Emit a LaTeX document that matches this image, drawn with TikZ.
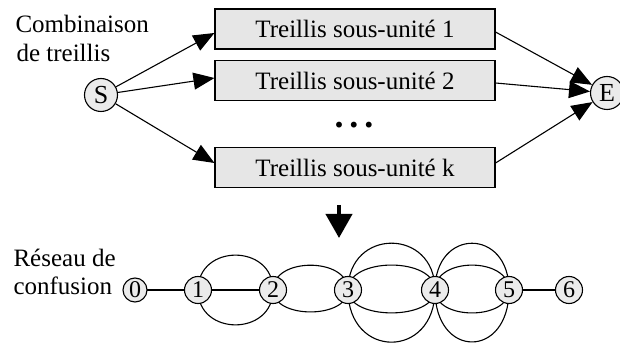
\documentclass[tikz,border=0pt]{standalone}
\usepackage{fontspec}
\setmainfont{Liberation Serif}
\usetikzlibrary{arrows.meta,backgrounds}
\definecolor{boxgray}{HTML}{E6E6E6}
\definecolor{nodegray}{HTML}{EBEBEB}
\begin{document}
\begin{tikzpicture}[x=1pt,y=1pt,line width=1.1pt,
  box/.style={draw, fill=boxgray, minimum width=280pt, minimum height=40pt, inner sep=0pt, font=\fontsize{25}{29}\selectfont},
  endpt/.style={draw, circle, fill=nodegray, inner sep=0pt, minimum size=33pt, font=\fontsize{26}{30}\selectfont},
  cnode/.style={draw, circle, fill=nodegray, inner sep=0pt, minimum size=27pt, font=\fontsize{24}{28}\selectfont},
  lbl/.style={anchor=base west, inner sep=0pt, font=\fontsize{25}{29}\selectfont},
  arr/.style={-{Triangle[length=21pt,width=17pt]}},
  bigarr/.style={-{Triangle[length=24pt,width=26pt]}, line width=4pt},
  link/.style={line width=1.1pt},
  up/.style={out=90,in=90,looseness=#1},
  down/.style={out=-90,in=-90,looseness=#1}]
\useasboundingbox (0,0) rectangle (620,345);
% labels
\node[lbl] (t1) at (15,312) {Combinaison};
\node[lbl] (t2) at (16,283) {de treillis};
\node[lbl] (t3) at (13,78) {Réseau de};
\node[lbl] (t4) at (13,50) {confusion};
% top part
\node[endpt] (S) at (101,250) {S};
\node[endpt] (E) at (607,252) {E};
\node[box] (b1) at (355,316) {Treillis sous-unité 1};
\node[box] (b2) at (355,264.5) {Treillis sous-unité 2};
\node[box] (bk) at (355,177.5) {Treillis sous-unité k};
\node[inner sep=0pt, font=\fontsize{36}{36}\selectfont\bfseries] (dots) at (354,220) {.\,.\,.};
\draw[arr] (S) -- ([yshift=-4pt]b1.west);
\draw[arr] (S) -- ([yshift=2.5pt]b2.west);
\draw[arr] (S) -- ([yshift=4.5pt]bk.west);
\draw[arr] ([yshift=-3pt]b1.east) -- (E);
\draw[arr] ([yshift=-2.5pt]b2.east) -- (E);
\draw[arr] ([yshift=4.5pt]bk.east) -- (E);
\coordinate (dtop) at (339,140);
\coordinate (dbot) at (339,107);
\draw[bigarr] (dtop) -- (dbot);
% confusion network
\node[cnode, minimum size=24pt] (n0) at (135,55) {0};
\node[cnode] (n1) at (198,55) {1};
\node[cnode] (n2) at (273,55) {2};
\node[cnode] (n3) at (348,55) {3};
\node[cnode] (n4) at (435,55) {4};
\node[cnode] (n5) at (509,55) {5};
\node[cnode] (n6) at (569,55) {6};
\begin{scope}[on background layer]
\draw[link] (n0.center) -- (n1.center);
\draw[link] (n1.center) -- (n2.center);
\draw[link] (n5.center) -- (n6.center);
\draw[link] (n1.center) to[up=1.59] (n2.center);
\draw[link] (n1.center) to[down=1.59] (n2.center);
\draw[link] (n2.center) to[up=1.13] (n3.center);
\draw[link] (n2.center) to[down=1.0] (n3.center);
\draw[link] (n3.center) to[up=1.84] (n4.center);
\draw[link] (n3.center) to[up=0.98] (n4.center);
\draw[link] (n3.center) to[down=0.90] (n4.center);
\draw[link] (n3.center) to[down=2.05] (n4.center);
\draw[link] (n4.center) to[up=2.16] (n5.center);
\draw[link] (n4.center) to[up=1.15] (n5.center);
\draw[link] (n4.center) to[down=1.06] (n5.center);
\draw[link] (n4.center) to[down=2.4] (n5.center);
\end{scope}
\end{tikzpicture}
\end{document}
